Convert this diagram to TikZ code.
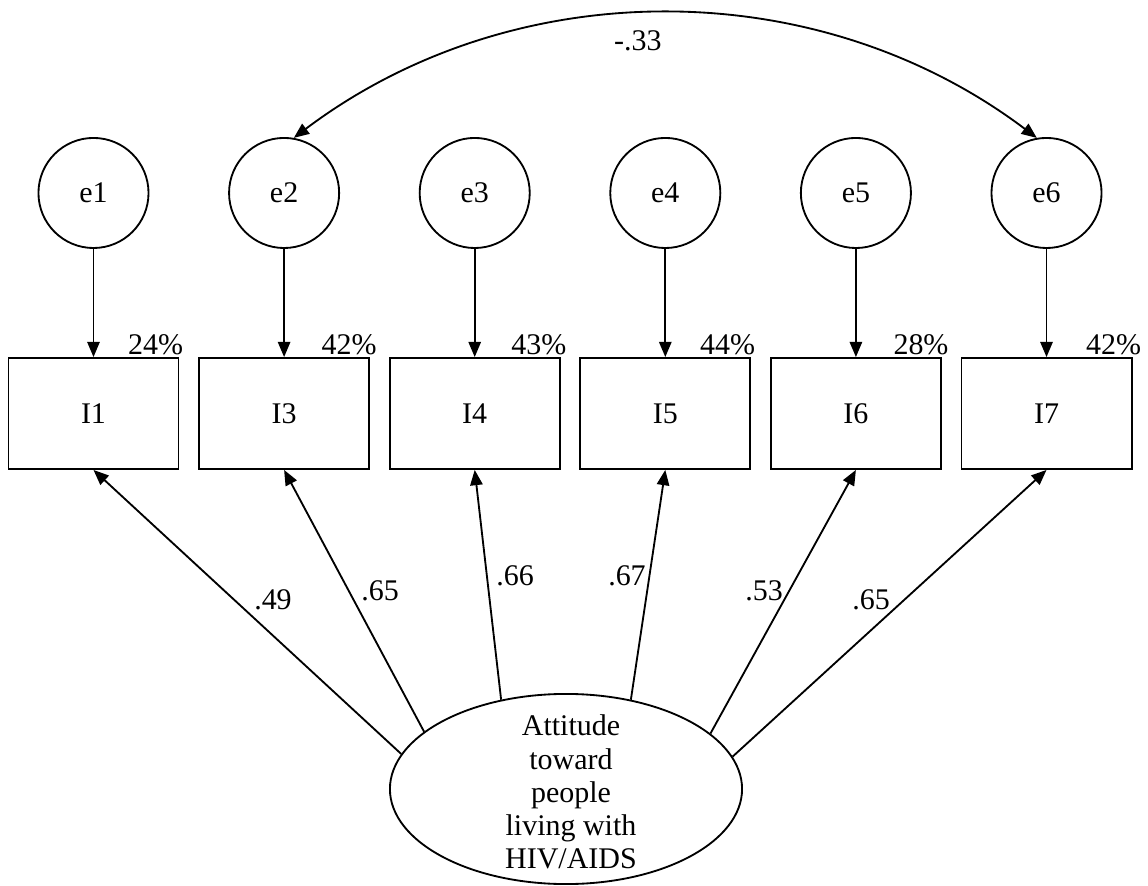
\documentclass[tikz,border=0pt]{standalone}
\usepackage{fontspec}
\setmainfont{Liberation Serif}
\usetikzlibrary{shapes.geometric,arrows.meta}
\tikzset{
  errore/.style  = {circle, draw, line width=1.1pt, minimum size=23.1mm, inner sep=0},
  item/.style    = {rectangle, draw, line width=1.1pt, minimum width=35.7mm, minimum height=23.3mm},
  fattore/.style = {ellipse, draw, line width=1.1pt, minimum width=73.9mm, minimum height=39.9mm, inner sep=0},
  link/.style    = {line width=1.1pt, -{Triangle[length=3.2mm,width=2.6mm]}},
  cov/.style     = {line width=1.1pt, {Triangle[length=3.2mm,width=2.6mm]}-{Triangle[length=3.2mm,width=2.6mm]}},
  et/.style      = {inner sep=1pt}
}

\begin{document}
\begin{tikzpicture}[font=\fontsize{17.9}{19.8}\selectfont]

  \useasboundingbox (0,0) rectangle (24.092,18.573);

  % fattore latente
  \node[fattore] (F) at (11.878,2.015) {};
  \node[align=center] (Ft) at (11.983,1.952) {Attitude\\toward\\people\\living with\\HIV/AIDS};

  % errori e indicatori
  \node[errore] (e1) at ( 1.962,14.523) {e1}; \node[item] (I1) at ( 1.962,9.895) {I1}; \draw[link] (e1) -- (I1); \node[et,anchor=base east] (p1) at ([xshift=1.2mm,yshift=0.6mm]I1.north east) {24\%};
  \node[errore] (e2) at ( 5.962,14.523) {e2}; \node[item] (I3) at ( 5.962,9.895) {I3}; \draw[link] (e2) -- (I3); \node[et,anchor=base east] (p3) at ([xshift=1.8mm,yshift=0.6mm]I3.north east) {42\%};
  \node[errore] (e3) at ( 9.962,14.523) {e3}; \node[item] (I4) at ( 9.962,9.895) {I4}; \draw[link] (e3) -- (I4); \node[et,anchor=base east] (p4) at ([xshift=1.6mm,yshift=0.6mm]I4.north east) {43\%};
  \node[errore] (e4) at (13.962,14.523) {e4}; \node[item] (I5) at (13.962,9.895) {I5}; \draw[link] (e4) -- (I5); \node[et,anchor=base east] (p5) at ([xshift=1.2mm,yshift=0.6mm]I5.north east) {44\%};
  \node[errore] (e5) at (17.962,14.523) {e5}; \node[item] (I6) at (17.962,9.895) {I6}; \draw[link] (e5) -- (I6); \node[et,anchor=base east] (p6) at ([xshift=1.8mm,yshift=0.6mm]I6.north east) {28\%};
  \node[errore] (e6) at (21.962,14.523) {e6}; \node[item] (I7) at (21.962,9.895) {I7}; \draw[link] (e6) -- (I7); \node[et,anchor=base east] (p7) at ([xshift=2.2mm,yshift=0.6mm]I7.north east) {42\%};

  % saturazioni
  \draw[link] (F.168.4) -- (I1.south); \node[et] (l1) at ( 5.729,5.981) {.49};
  \draw[link] (F.158.4) -- (I3.south); \node[et] (l3) at ( 7.975,6.170) {.65};
  \draw[link] (F.126.5) -- (I4.south); \node[et] (l4) at (10.808,6.485) {.66};
  \draw[link] (F.54)    -- (I5.south); \node[et] (l5) at (13.158,6.485) {.67};
  \draw[link] (F.21.6)  -- (I6.south); \node[et] (l6) at (16.034,6.170) {.53};
  \draw[link] (F.11.6)  -- (I7.south); \node[et] (l7) at (18.279,5.981) {.65};

  % covarianza
  \draw[cov] (e2.80) to[bend left=37, looseness=0.95] node[et, pos=0.465, below=2.8mm] (r26) {-.33} (e6.100);

\end{tikzpicture}
\end{document}
